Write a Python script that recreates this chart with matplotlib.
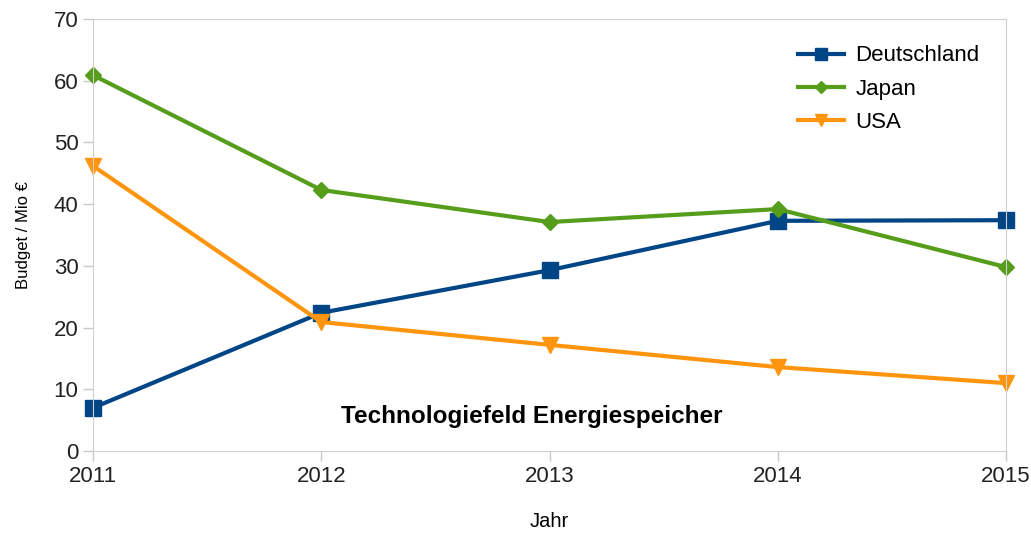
import matplotlib
matplotlib.use("Agg")
from matplotlib import pyplot as plt

plt.rcParams["font.family"] = ["Liberation Sans", "DejaVu Sans"]

years = [2011, 2012, 2013, 2014, 2015]
deutschland = [7.0, 22.4, 29.3, 37.3, 37.4]
japan = [60.9, 42.3, 37.1, 39.2, 29.8]
usa = [46.2, 20.9, 17.2, 13.6, 11.0]

fig = plt.figure(figsize=(10.31, 5.34), dpi=100)
ax = fig.add_axes([0.0902, 0.1554, 0.8856, 0.809])

ax.plot(years, deutschland, color="#004586", lw=3, marker="s", ms=11, label="Deutschland", clip_on=False)
ax.plot(years, japan, color="#579d1c", lw=3, marker="D", ms=8, label="Japan", clip_on=False)
ax.plot(years, usa, color="#ff950e", lw=3, marker="v", ms=12, label="USA", clip_on=False)

ax.set_xlim(2011, 2015)
ax.set_ylim(0, 70)
ax.set_xticks(years)
ax.set_yticks(range(0, 71, 10))
ax.tick_params(labelsize=16, length=7, width=1, color="#c8c8c8", labelcolor="#222222")
for s in ax.spines.values():
    s.set_color("#d0d0d0")

ax.set_xlabel("Jahr", fontsize=14.5)
ax.xaxis.set_label_coords(0.5, -0.142)
ax.set_ylabel("Budget / Mio €", fontsize=12)
ax.yaxis.set_label_coords(-0.068, 0.5)
ax.text(0.48, 0.08, "Technologiefeld Energiespeicher", transform=ax.transAxes,
        ha="center", va="center", fontsize=17.5, fontweight="bold")

ax.legend(loc="upper right", frameon=False, fontsize=16, handlelength=2.1,
          bbox_to_anchor=(0.993, 0.985), labelspacing=0.55, handletextpad=0.5,
          markerscale=0.75)

fig.savefig("out.png", dpi=100)
